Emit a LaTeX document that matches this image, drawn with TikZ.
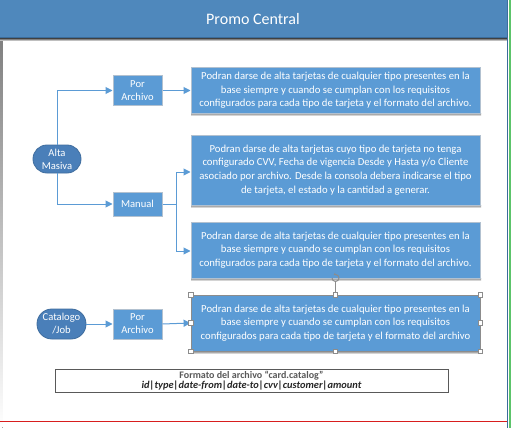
\documentclass[tikz,border=0pt]{standalone}
\usepackage{fontspec}
\setmainfont{Carlito}
\usetikzlibrary{arrows.meta}
\definecolor{hdr}{HTML}{4F88BC}
\definecolor{hdrline}{HTML}{3B6D9C}
\definecolor{boxblue}{HTML}{5B9BD5}
\definecolor{boxedge}{HTML}{B2C1D0}
\definecolor{ovalblue}{HTML}{4A7FB9}
\definecolor{ovaledge}{HTML}{3F6D9E}
\definecolor{arrblue}{HTML}{5B9BD5}
\definecolor{shade}{HTML}{E3ECF6}
\definecolor{handle}{HTML}{8C8C8C}
\definecolor{framegreen}{HTML}{5CC46A}
\definecolor{redline}{HTML}{D81E1E}
\tikzset{
  txtbox/.style={rectangle, fill=boxblue, draw=boxedge, line width=1pt, text=white, align=center,
    inner sep=0pt, minimum width=289pt, font=\fontsize{10.7}{13.6}\selectfont},
  smallbox/.style={rectangle, fill=boxblue, draw=boxedge, line width=1pt, text=white, align=center,
    inner sep=0pt, minimum width=49pt, font=\fontsize{10.6}{13}\selectfont},
  ovalnode/.style={rectangle, fill=ovalblue, draw=ovaledge, line width=0.8pt, text=white,
    align=center, inner sep=0pt, font=\fontsize{10.6}{13}\selectfont},
  arr/.style={draw=arrblue, line width=1pt, -{Triangle[length=7pt,width=7pt]}},
  conn/.style={draw=arrblue, line width=1pt},
  hbox/.style={rectangle, fill=white, draw=handle, line width=0.6pt, minimum size=4.5pt, inner sep=0pt},
}
\begin{document}
\begin{tikzpicture}[x=1pt,y=-1pt]
\useasboundingbox (0,0) rectangle (517,428);
\fill[white] (0,0) rectangle (517,428);
% frame
\fill[shade] (0,38) rectangle (2.5,428);
\fill[hdr] (0,0) rectangle (507,38);
\draw[hdrline, line width=1pt] (0,38) -- (507,38);
\fill[shade] (0,39) rectangle (507,41);
\draw[hdrline, line width=0.8pt] (507,0) -- (507,428);
\draw[framegreen, line width=2pt] (509.7,0) -- (509.7,428);
\draw[redline, line width=0.8pt] (0,421) -- (507,421);
\node[text=white, font=\fontsize{16}{19}\selectfont] (title) at (253,19) {Promo Central};

% shadows
\foreach \a/\b in {68/113, 135/205, 222/278, 295/351}{
  \fill[shade] (191,\b) rectangle (481,\b+3);
}

% nodes
\node[ovalnode, rounded corners=13.9pt, minimum width=48pt, minimum height=28pt] (alta) at (57,159) {Alta\\Masiva};
\node[smallbox, minimum height=29pt] (por1) at (137.5,90.5) {Por\\Archivo};
\node[smallbox, minimum height=24pt] (manual) at (137.5,204) {Manual};
\node[txtbox, minimum height=45pt] (box1) at (335.5,90.5) {Podran darse de alta tarjetas de cualquier tipo presentes en la\\base siempre y cuando se cumplan con los requisitos\\configurados para cada tipo de tarjeta y el formato del archivo.};
\node[txtbox, minimum height=70pt] (box2) at (335.5,170) {Podran darse de alta tarjetas cuyo tipo de tarjeta no tenga\\configurado CVV, Fecha de vigencia Desde y Hasta y/o Cliente\\asociado por archivo. Desde la consola debera indicarse el tipo\\de tarjeta, el estado y la cantidad a generar.};
\node[txtbox, minimum height=56pt] (box3) at (335.5,250) {Podran darse de alta tarjetas de cualquier tipo presentes en la\\base siempre y cuando se cumplan con los requisitos\\configurados para cada tipo de tarjeta y el formato del archivo.};
\node[ovalnode, rounded corners=14.9pt, minimum width=49pt, minimum height=30pt] (cat) at (61.5,324) {Catalogo\\/Job};
\node[smallbox, minimum height=30pt] (por2) at (137.5,324) {Por\\Archivo};
\node[txtbox, draw=handle, line width=0.8pt, minimum height=56pt] (box4) at (335.5,323) {Podran darse de alta tarjetas de cualquier tipo presentes en la\\base siempre y cuando se cumplan con los requisitos\\configurados para cada tipo de tarjeta y el formato del archivo};

% connectors
\draw[arr] (alta.north) |- (por1.west);
\draw[arr] (alta.south) |- (manual.west);
\draw[arr] (por1.east) -- (box1.west);
\draw[conn] (manual.east) -- ++(14,0) coordinate (mj);
\draw[arr] (mj) |- ([yshift=-2pt]box2.west);
\draw[arr] (mj) |- ([yshift=-1pt]box3.west);
\draw[arr] (cat.east) -- (por2.west);
\draw[arr] (por2.east) -- (box4.west);

% selection handles
\coordinate (rot) at (335.5,278);
\draw[handle, line width=0.8pt] (335.5,282) -- (box4.north);
\draw[handle, line width=1pt, -{Stealth[length=2.5pt,width=3pt]}] ([shift={(-3.5,0)}]rot) arc[start angle=180, end angle=-120, radius=3.5];
\foreach \p in {north west, north, north east, west, east, south west, south, south east}{
  \node[hbox] at (box4.\p) {};
}

% format box
\node[rectangle, draw=black!65, line width=0.8pt, minimum width=393pt, minimum height=23pt, inner sep=0pt, align=center] (fmt) at (251.5,380.5)
  {{\color{black!65}\bfseries\fontsize{10}{11}\selectfont Formato del archivo “card.catalog”}\\[-1.5pt]
   {\color{black!85}\bfseries\itshape\fontsize{10.4}{11}\selectfont id|type|date-from|date-to|cvv|customer|amount}};
\end{tikzpicture}
\end{document}
